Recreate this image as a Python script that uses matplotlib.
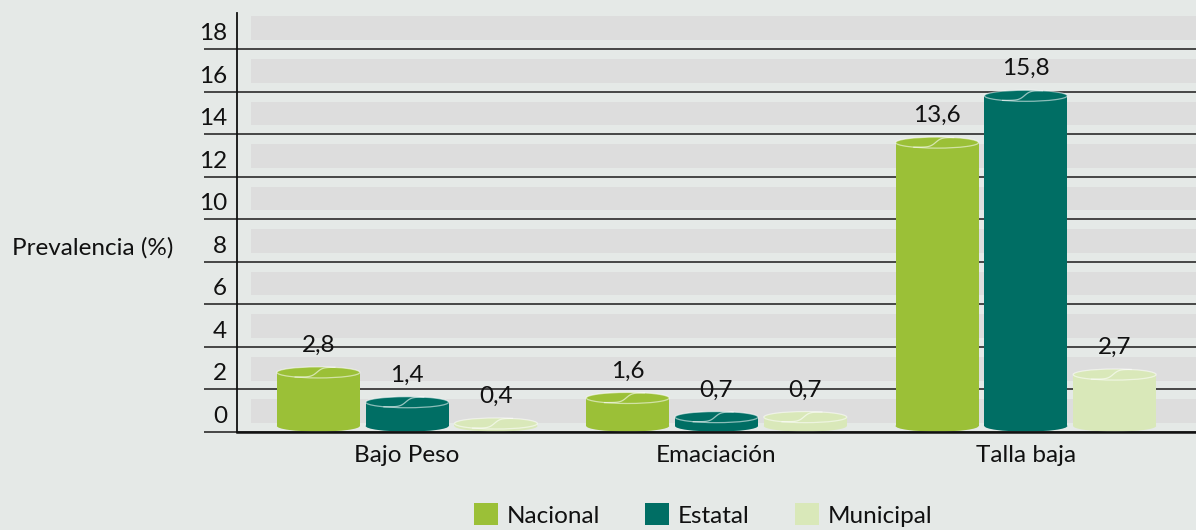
import matplotlib
matplotlib.use('Agg')

import numpy as np
import matplotlib.pyplot as plt
from matplotlib.patches import Ellipse, Patch

categorias = ['Bajo Peso', 'Emaciación', 'Talla baja']
series = ['Nacional', 'Estatal', 'Municipal']
nacional = [2.8, 1.6, 13.6]
estatal = [1.4, 0.7, 15.8]
municipal = [0.4, 0.7, 2.7]
etiquetas = [['2,8', '1,6', '13,6'], ['1,4', '0,7', '15,8'], ['0,4', '0,7', '2,7']]
yticks = [0, 2, 4, 6, 8, 10, 12, 14, 16, 18]

colores = ['#9bc037', '#006e64', '#d9e8b9']
fondo = '#e5e9e7'
banda = '#dddddd'
linea = '#2b2b2b'

plt.rcParams['font.family'] = ['Lato', 'DejaVu Sans']
plt.rcParams['font.size'] = 17.5

fig = plt.figure(figsize=(11.96, 5.30), dpi=100, facecolor=fondo)
ax = fig.add_axes([237 / 1196, 1 - 432 / 530, 1 - 237 / 1196, (432 - 13) / 530])
ax.set_facecolor(fondo)
ax.set_xlim(-0.55, 2.55)
ax.set_ylim(0, 19.69)

# bandas grises y lineas horizontales
for v in yticks:
    ax.axhspan(v + 0.42, v + 1.53, xmin=14 / 959, xmax=1, color=banda, lw=0, zorder=0)
    ax.axhline(v, color=linea, lw=1.2, zorder=1)
    ax.annotate(str(v), xy=(0, v), xycoords=('axes fraction', 'data'),
                xytext=(-10, 5), textcoords='offset pixels',
                ha='right', va='bottom', color='#111111')

ax.set_yticks(yticks)
ax.set_yticklabels([])
ax.tick_params(axis='y', length=33 * 72 / 100, width=1.2, color=linea, direction='out')

for s in ['top', 'right']:
    ax.spines[s].set_visible(False)
ax.spines['left'].set_linewidth(1.3)
ax.spines['left'].set_color('#111111')
ax.spines['bottom'].set_linewidth(1.8)
ax.spines['bottom'].set_color('#111111')
ax.spines['left'].set_zorder(6)
ax.spines['bottom'].set_zorder(6)

x = np.arange(len(categorias))
ancho = 0.268
paso = 0.287
base = 0.28
alto_el = 0.52
valores = [nacional, estatal, municipal]

for i, (vals, col) in enumerate(zip(valores, colores)):
    xs = x + (i - 1) * paso
    ax.bar(xs, np.array(vals) - base, bottom=base, width=ancho, color=col, lw=0, zorder=3)
    for xc, v, lab in zip(xs, vals, etiquetas[i]):
        ax.add_patch(Ellipse((xc, base), ancho, alto_el, facecolor=col, lw=0, zorder=3))
        ax.add_patch(Ellipse((xc, v), ancho, alto_el, facecolor=col,
                             edgecolor=(1, 1, 1, 0.55), lw=0.9, zorder=4))
        # curva en la tapa
        t = np.linspace(0, 1, 40)
        cx = xc - 0.28 * ancho + t * 0.48 * ancho
        s = (np.tanh((t - 0.55) * 7) + 1) / 2
        y0 = v - alto_el / 2 * 0.83
        y1 = v + alto_el / 2 * 0.92
        ax.plot(cx, y0 + s * (y1 - y0), color=(1, 1, 1, 0.6), lw=0.9, zorder=5)
        ax.annotate(lab, xy=(xc, v), xytext=(0, 27), textcoords='offset pixels',
                    ha='center', va='center', color='#111111')

ax.set_xticks(x)
ax.set_xticklabels(categorias, color='#111111')
ax.tick_params(axis='x', length=0, pad=9)

fig.text(12 / 1196, 1 - 248 / 530, 'Prevalencia (%)', ha='left', va='center', color='#111111')

handles = [Patch(facecolor=c, lw=0) for c in colores]
fig.legend(handles, series, loc='center', bbox_to_anchor=(703 / 1196, 1 - 515 / 530),
           ncol=3, frameon=False, handlelength=1.0, handleheight=1.0,
           handletextpad=0.35, columnspacing=1.85, borderpad=0, labelcolor='#111111')

fig.savefig('out.png', dpi=100, facecolor=fondo)
